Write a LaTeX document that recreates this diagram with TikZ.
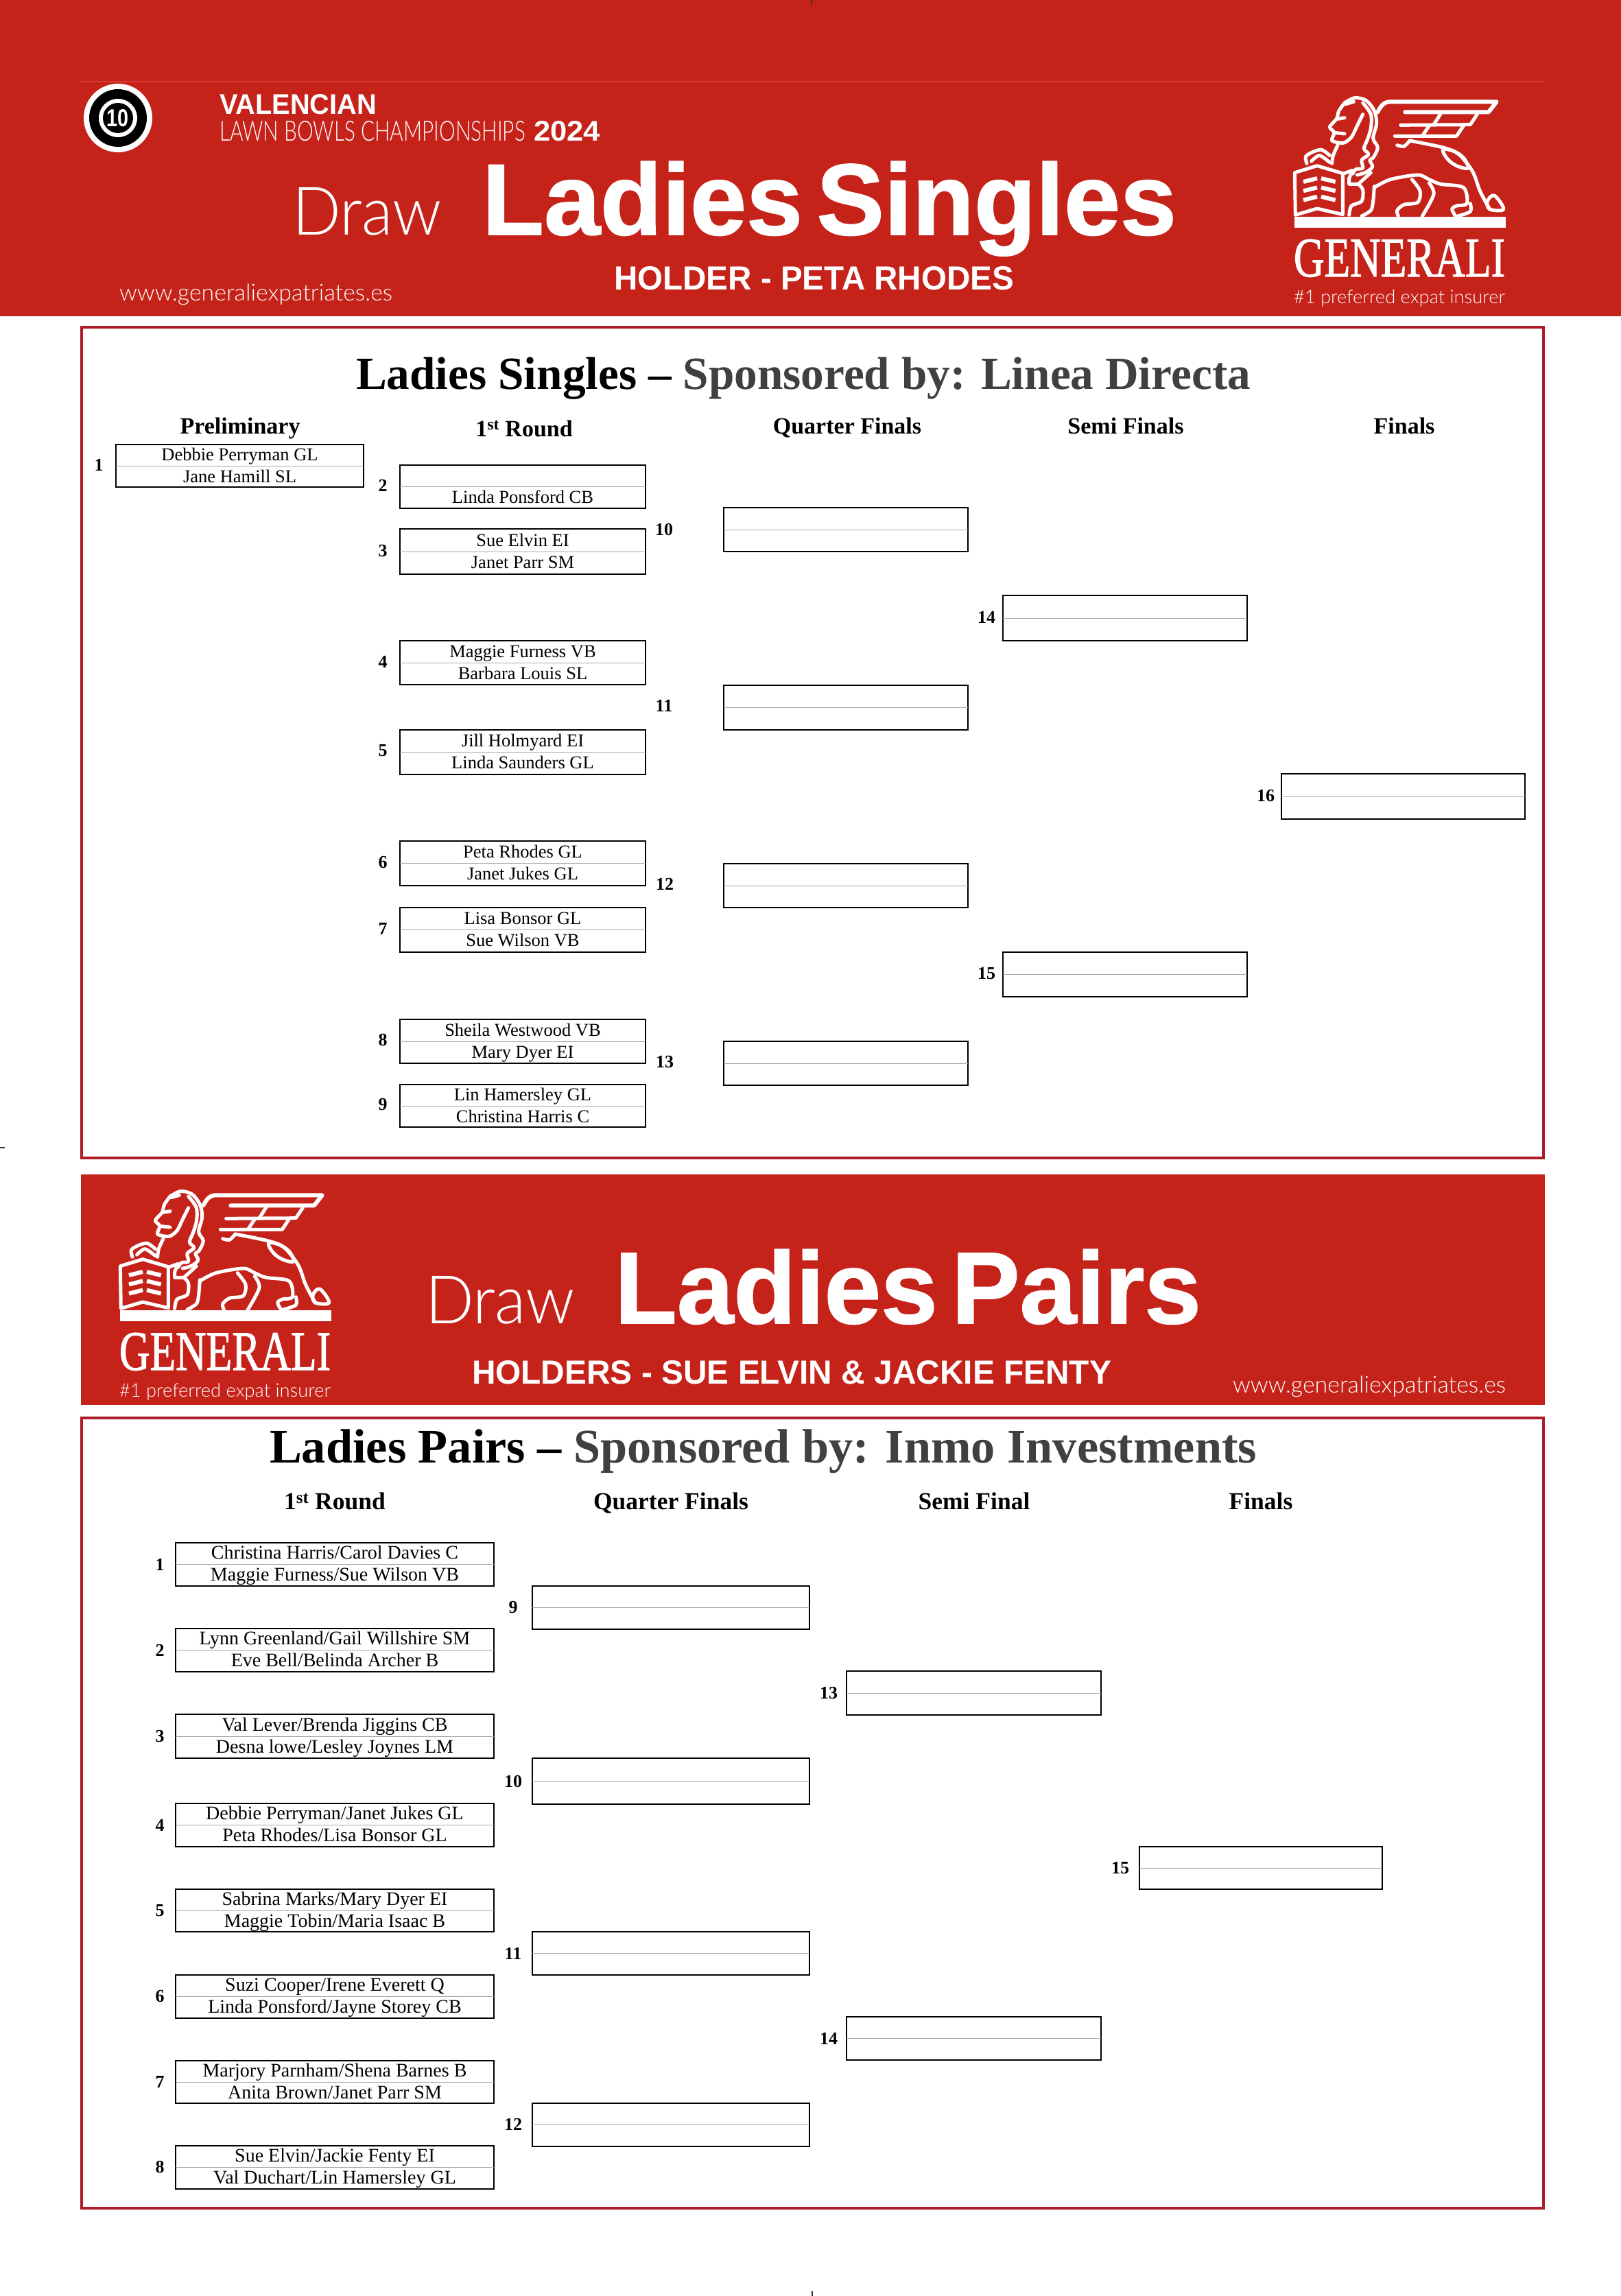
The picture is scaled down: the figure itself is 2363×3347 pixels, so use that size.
\documentclass[tikz,border=0pt]{standalone}
\usepackage{fontspec}
\usepackage{graphicx}
\setmainfont{Liberation Serif}
\newfontfamily\bannerfont{Liberation Sans}
\newfontfamily\heavyfont{Liberation Sans}[FakeBold=1.2]
\newfontfamily\thinfont{Lato Light}
\newfontfamily\brandfont{Liberation Serif}[FakeBold=1.5]

\definecolor{bannerred}{HTML}{C5221A}
\definecolor{framered}{HTML}{AE1C28}
\definecolor{sponsorgrey}{HTML}{404040}

\tikzset{
	plain/.style={inner sep=0pt, outer sep=0pt},
	bannertext/.style={plain, anchor=base west, text=white},
	titletext/.style={plain, anchor=base west},
	headtext/.style={plain, anchor=base, font=\fontsize{34}{36}\selectfont\bfseries},
	pairhead/.style={plain, anchor=base, font=\fontsize{35.5}{37}\selectfont\bfseries},
	nametext/.style={plain, anchor=base, font=\fontsize{26.5}{28}\selectfont},
	numlabel/.style={plain, font=\fontsize{26}{28}\selectfont\bfseries},
	matchbox/.style={plain, draw=black, line width=2.6pt},
	midline/.style={draw=black!35, line width=1pt},
	framebox/.style={draw=framered, line width=4.5pt},
	cropmark/.style={draw=black!80, line width=1.5pt},
	lionline/.style={draw=white, line width=5pt, line join=round, line cap=round},
	pics/lionlogo/.style={code={
		\begin{scope}[scale=1/3]
			% Base bar and building
			\fill[white] (50,558) rectangle (975,606);
			\draw[lionline] (52,365) -- (150,335) -- (262,368) -- (262,548) -- (150,522) -- (55,550) -- cycle;
			\foreach \ydrop in {0,40,80} {
				\draw[lionline, line width=6pt, line cap=butt] (90,405+\ydrop) -- (150,390+\ydrop);
				\draw[lionline, line width=6pt, line cap=butt] (168,390+\ydrop) -- (230,405+\ydrop);
			}
			% Head and mane
			\draw[lionline] plot[smooth, tension=.55] coordinates {(270,60)(315,38)(365,50)(400,95)(410,150)(395,215)(415,255)(395,300)(380,310)(392,340)(360,365)(325,375)};
			\draw[lionline] plot[smooth, tension=.45] coordinates {(270,60)(245,95)(235,130)(205,165)(225,190)(215,225)(265,235)(300,210)(325,160)(350,110)};
			\draw[lionline] plot[smooth, tension=.55] coordinates {(350,60)(385,110)(385,170)(370,220)(355,260)(375,285)(345,310)(350,345)(320,350)(305,370)};
			\draw[lionline] (275,65) -- (310,55);
			\draw[lionline] (240,130) -- (270,125);
			\draw[lionline] (225,190) -- (270,195);
			% Front leg and paw
			\draw[lionline] plot[smooth, tension=.5] coordinates {(240,245)(220,290)(215,325)};
			\draw[lionline] plot[smooth, tension=.5] coordinates {(205,290)(170,265)(130,275)(100,295)(105,325)};
			\draw[lionline] plot[smooth, tension=.5] coordinates {(125,315)(160,290)(205,320)};
			\draw[lionline] (268,368) -- (305,355) -- (290,390) -- (290,415) -- (330,415) -- (385,365);
			\draw[lionline] plot[smooth, tension=.5] coordinates {(330,415)(350,440)(345,490)(300,510)(290,550)};
			\draw[lionline] plot[smooth, tension=.5] coordinates {(400,425)(395,490)(385,530)(345,555)};
			% Body and hind legs
			\draw[lionline] plot[smooth, tension=.5] coordinates {(400,430)(470,395)(590,375)(640,395)(690,415)(790,430)(805,500)(760,510)(740,525)(755,555)};
			\draw[lionline] plot[smooth, tension=.5] coordinates {(565,395)(600,445)(590,495)(530,505)(500,530)(505,555)};
			\draw[lionline] plot[smooth, tension=.5] coordinates {(640,410)(660,460)(610,555)};
			\draw[lionline] plot[smooth, tension=.5] coordinates {(820,500)(820,535)(765,555)};
			% Back, tail and leaf
			\draw[lionline] plot[smooth, tension=.5] coordinates {(500,245)(530,250)(555,225)};
			\draw[lionline] plot[smooth, tension=.5] coordinates {(555,225)(700,255)(770,285)(830,360)(860,440)(885,490)(905,525)};
			\draw[lionline] plot[smooth cycle, tension=.6] coordinates {(905,525)(895,490)(925,465)(965,525)};
			\draw[lionline] plot[smooth cycle, tension=.6] coordinates {(700,265)(720,305)(760,335)(810,345)(790,300)(745,270)};
			% Wing
			\draw[lionline, line width=6pt] (415,100) .. controls (430,70) and (445,55) .. (470,55) -- (935,55) -- (900,100) -- (535,100);
			\draw[lionline] (515,157) -- (820,155) -- (850,110);
			\draw[lionline] (490,205) -- (760,205) -- (790,160);
			\draw[lionline] (660,155) -- (690,108);
			\draw[lionline] (610,205) -- (640,160);
		\end{scope}
	}},
}

% One bracket box with its two name lines
\newcommand{\matchrow}[7]{
	\node[matchbox, minimum width={(#3-#2)*1pt}, minimum height={(#5-#4)*1pt}] (#1) at ({(#2+#3)/2},{(#4+#5)/2}) {};
	\draw[midline] (#1.west) -- (#1.east);
	\node[nametext] (#1top) at ([yshift=8pt]#1.center) {#6};
	\node[nametext] (#1low) at ([yshift=-24pt]#1.center) {#7};
}

\begin{document}
\begin{tikzpicture}[x=1pt, y=-1pt]
	\useasboundingbox (0,0) rectangle (2363,3347);
	\fill[white] (0,0) rectangle (2363,3347);

	% Top banner
	\fill[bannerred] (0,0) rectangle (2363,461);
	\coordinate (ruleL) at (117,119);
	\coordinate (ruleR) at (2251,119);
	\draw[draw=red!30!bannerred!85!white, line width=1.5pt] (ruleL) -- (ruleR);

	% Trim marks on the page edges
	\coordinate (markTa) at (1183,0);
	\coordinate (markTb) at (1183,7);
	\coordinate (markLa) at (0,1673);
	\coordinate (markLb) at (7,1673);
	\coordinate (markBa) at (1184,3340);
	\coordinate (markBb) at (1184,3347);
	\draw[cropmark] (markTa) -- (markTb);
	\draw[cropmark] (markLa) -- (markLb);
	\draw[cropmark] (markBa) -- (markBb);

	% Target badge
	\begin{scope}
		\clip (110,110) rectangle (240,222);
		\fill[white] (172,172) circle (50);
	\end{scope}
	\fill[black] (172,172) circle (42);
	\fill[white] (172,172) circle (28);
	\fill[black] (172,172) circle (22);
	\node[plain, text=white] (badge) at (172,172) {\resizebox{32pt}{25pt}{\bannerfont\bfseries 10}};

	% Top banner texts
	\node[bannertext] (valencian) at (320,166) {\resizebox{229pt}{29pt}{\bannerfont\bfseries VALENCIAN}};
	\node[bannertext] (lawn) at (320,205) {\resizebox{446pt}{29pt}{\thinfont LAWN BOWLS CHAMPIONSHIPS}};
	\node[bannertext] (year) at (778,205) {\resizebox{97pt}{29pt}{\bannerfont\bfseries 2024}};
	\node[bannertext] (drawA) at (426,342) {\resizebox{218pt}{69pt}{\thinfont Draw}};
	\node[bannertext] (singlesT) at (703,342) {\resizebox{1012pt}{!}{\fontsize{145}{150}\heavyfont\bfseries Ladies\hspace{0.14em}Singles}};
	\node[bannertext] (holderA) at (895,422) {\resizebox{583pt}{34pt}{\bannerfont\bfseries HOLDER - PETA RHODES}};
	\node[bannertext] (webA) at (174,438) {\resizebox{398pt}{!}{\fontsize{32}{34}\selectfont\thinfont www.generaliexpatriates.es}};
	\pic (logoA) at (1870,130) {lionlogo};
	\node[bannertext] (genA) at (1886,403) {\resizebox{308pt}{54pt}{\brandfont GENERALI}};
	\node[bannertext] (tagA) at (1886,442) {\resizebox{308pt}{!}{\fontsize{30}{32}\selectfont\thinfont \#1 preferred expat insurer}};

	% Singles frame and heading
	\draw[framebox] (119,477) rectangle (2250,1688);
	\node[titletext] (singlesHead) at (519,567) {\resizebox{1304pt}{!}{\fontsize{68}{70}\selectfont\bfseries Ladies Singles -- \textcolor{sponsorgrey}{Sponsored by: Linea Directa}}};
	\node[headtext] (hPrelim) at (350,632) {Preliminary};
	\node[headtext] (hRoundA) at (764,636) {1\textsuperscript{st} Round};
	\node[headtext] (hQuarterA) at (1235,632) {Quarter Finals};
	\node[headtext] (hSemiA) at (1641,632) {Semi Finals};
	\node[headtext] (hFinalA) at (2047,632) {Finals};

	% Singles boxes
	\matchrow{sa}{169}{530}{648}{710}{Debbie Perryman GL}{Jane Hamill SL}
	\matchrow{sb}{583}{941}{678}{741}{}{Linda Ponsford CB}
	\matchrow{sc}{583}{941}{771}{837}{Sue Elvin EI}{Janet Parr SM}
	\matchrow{sd}{583}{941}{934}{998}{Maggie Furness VB}{Barbara Louis SL}
	\matchrow{se}{583}{941}{1064}{1129}{Jill Holmyard EI}{Linda Saunders GL}
	\matchrow{sf}{583}{941}{1226}{1291}{Peta Rhodes GL}{Janet Jukes GL}
	\matchrow{sg}{583}{941}{1323}{1388}{Lisa Bonsor GL}{Sue Wilson VB}
	\matchrow{sh}{583}{941}{1486}{1550}{Sheila Westwood VB}{Mary Dyer EI}
	\matchrow{si}{583}{941}{1581}{1643}{Lin Hamersley GL}{Christina Harris C}
	\foreach \boxname/\xa/\xb/\ya/\yb in {sj/1055/1411/740/804, sk/1055/1411/999/1064, sl/1055/1411/1259/1323, sm/1055/1411/1518/1582, sn/1462/1818/868/934, so/1462/1818/1388/1453, sp/1868/2223/1128/1194} {
		\matchrow{\boxname}{\xa}{\xb}{\ya}{\yb}{}{}
	}

	% Singles numbers
	\foreach \num/\xpos/\ypos in {1/144/678, 2/558/708, 3/558/803, 4/558/965, 5/558/1094, 6/558/1257, 7/558/1354, 8/558/1516, 9/558/1610, 10/968/772, 11/968/1029, 12/969/1289, 13/969/1548, 14/1438/900, 15/1438/1419, 16/1845/1160} {
		\node[numlabel] (sNum\num) at (\xpos,\ypos) {\num};
	}

	% Second banner
	\fill[bannerred] (118,1712) rectangle (2252,2048);
	\pic (logoB) at (158,1724) {lionlogo};
	\node[bannertext] (genB) at (174,1997) {\resizebox{308pt}{54pt}{\brandfont GENERALI}};
	\node[bannertext] (tagB) at (174,2036) {\resizebox{308pt}{!}{\fontsize{30}{32}\selectfont\thinfont \#1 preferred expat insurer}};
	\node[bannertext] (drawB) at (620,1929) {\resizebox{218pt}{69pt}{\thinfont Draw}};
	\node[bannertext] (pairsT) at (896,1929) {\resizebox{855pt}{!}{\fontsize{145}{150}\heavyfont\bfseries Ladies\hspace{0.14em}Pairs}};
	\node[bannertext] (holderB) at (688,2017) {\resizebox{932pt}{34pt}{\bannerfont\bfseries HOLDERS - SUE ELVIN \& JACKIE FENTY}};
	\node[bannertext] (webB) at (1797,2030) {\resizebox{398pt}{!}{\fontsize{32}{34}\selectfont\thinfont www.generaliexpatriates.es}};

	% Pairs frame and heading
	\draw[framebox] (119,2067) rectangle (2250,3219);
	\node[titletext] (pairsHead) at (393,2132) {\resizebox{1439pt}{!}{\fontsize{68}{70}\selectfont\bfseries Ladies Pairs -- \textcolor{sponsorgrey}{Sponsored by: Inmo Investments}}};
	\node[pairhead] (hRoundB) at (488,2200) {1\textsuperscript{st} Round};
	\node[pairhead] (hQuarterB) at (978,2200) {Quarter Finals};
	\node[pairhead] (hSemiB) at (1420,2200) {Semi Final};
	\node[pairhead] (hFinalB) at (1838,2200) {Finals};

	% Pairs boxes
	\begin{scope}[nametext/.append style={font=\fontsize{28}{30}\selectfont}]
		\matchrow{pa}{256}{720}{2249}{2312}{Christina Harris/Carol Davies C}{Maggie Furness/Sue Wilson VB}
		\matchrow{pb}{256}{720}{2374}{2437}{Lynn Greenland/Gail Willshire SM}{Eve Bell/Belinda Archer B}
		\matchrow{pc}{256}{720}{2499}{2563}{Val Lever/Brenda Jiggins CB}{Desna lowe/Lesley Joynes LM}
		\matchrow{pd}{256}{720}{2629}{2692}{Debbie Perryman/Janet Jukes GL}{Peta Rhodes/Lisa Bonsor GL}
		\matchrow{pe}{256}{720}{2754}{2816}{Sabrina Marks/Mary Dyer EI}{Maggie Tobin/Maria Isaac B}
		\matchrow{pf}{256}{720}{2879}{2942}{Suzi Cooper/Irene Everett Q}{Linda Ponsford/Jayne Storey CB}
		\matchrow{pg}{256}{720}{3004}{3066}{Marjory Parnham/Shena Barnes B}{Anita Brown/Janet Parr SM}
		\matchrow{ph}{256}{720}{3128}{3191}{Sue Elvin/Jackie Fenty EI}{Val Duchart/Lin Hamersley GL}
	\end{scope}
	\foreach \boxname/\xa/\xb/\ya/\yb in {pi/776/1180/2312/2375, pj/776/1180/2563/2630, pk/776/1180/2816/2879, pl/776/1180/3066/3129, pm/1234/1605/2436/2500, pn/1234/1605/2940/3003, po/1661/2015/2692/2754} {
		\matchrow{\boxname}{\xa}{\xb}{\ya}{\yb}{}{}
	}

	% Pairs numbers
	\foreach \num/\xpos/\ypos in {1/233/2281, 2/233/2406, 3/233/2531, 4/233/2661, 5/233/2785, 6/233/2910, 7/233/3035, 8/233/3159, 9/748/2343, 10/748/2597, 11/748/2848, 12/748/3097, 13/1208/2468, 14/1208/2972, 15/1633/2723} {
		\node[numlabel] (pNum\num) at (\xpos,\ypos) {\num};
	}
\end{tikzpicture}
\end{document}
